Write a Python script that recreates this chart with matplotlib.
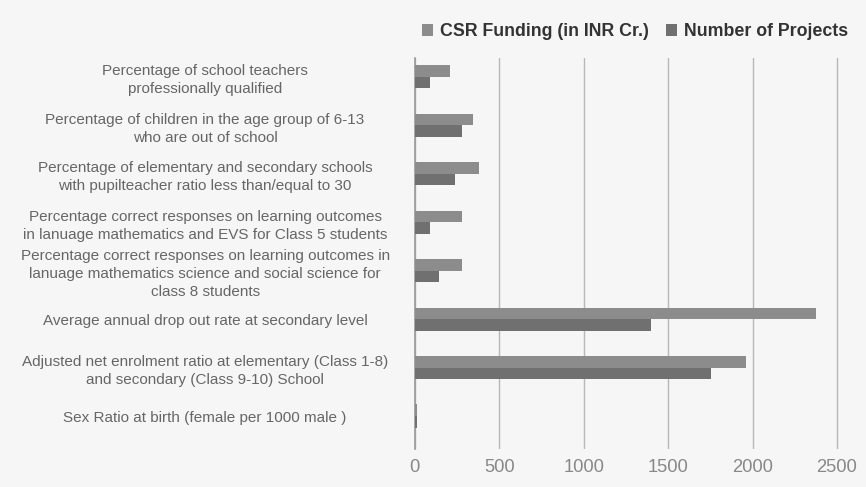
import matplotlib
matplotlib.use("Agg")
import matplotlib.pyplot as plt
import numpy as np

categories = [
    "Percentage of school teachers\nprofessionally qualified",
    "Percentage of children in the age group of 6-13\nwho are out of school",
    "Percentage of elementary and secondary schools\nwith pupilteacher ratio less than/equal to 30",
    "Percentage correct responses on learning outcomes\nin lanuage mathematics and EVS for Class 5 students",
    "Percentage correct responses on learning outcomes in\nlanuage mathematics science and social science for\nclass 8 students",
    "Average annual drop out rate at secondary level",
    "Adjusted net enrolment ratio at elementary (Class 1-8)\nand secondary (Class 9-10) School",
    "Sex Ratio at birth (female per 1000 male )",
]
csr_funding = [209, 342, 378, 282, 282, 2376, 1964, 15]
num_projects = [92, 282, 237, 92, 141, 1396, 1752, 15]
xticks = [0, 500, 1000, 1500, 2000, 2500]

bg = "#f6f6f6"
plt.rcParams['font.family'] = ['Liberation Sans', 'DejaVu Sans']

fig = plt.figure(figsize=(8.66, 4.87), dpi=100, facecolor=bg)
ax = fig.add_axes([0.479, 0.078, 0.507, 0.803], facecolor=bg)

y = np.arange(len(categories))
h = 0.24
ax.barh(y - h / 2, csr_funding, height=h, color="#8c8c8c", label="CSR Funding (in INR Cr.)", zorder=3)
ax.barh(y + h / 2, num_projects, height=h, color="#707070", label="Number of Projects", zorder=3)

ax.set_xlim(0, 2600)
ax.set_ylim(7.68, -0.39)
ax.set_xticks(xticks)
ax.set_xticklabels([str(t) for t in xticks], fontsize=13.2, color="#888888")
ax.set_yticks(y)
ax.set_yticklabels(categories, fontsize=11, color="#666666", ha="center", multialignment="center", linespacing=1.35)
ax.tick_params(axis="y", length=0, pad=151)
ax.tick_params(axis="x", length=0, pad=7)
ax.grid(axis="x", color="#b8b8b8", linewidth=1, zorder=0)
for s in ["top", "right", "bottom"]:
    ax.spines[s].set_visible(False)
ax.spines["left"].set_color("#999999")
ax.spines["left"].set_linewidth(1.2)

fig.legend(loc="upper right", bbox_to_anchor=(0.998, 0.985), ncol=2, frameon=False,
           prop={"weight": "bold", "size": 12.8}, labelcolor="#333333",
           handlelength=0.6, handleheight=0.6, handletextpad=0.4, columnspacing=1.0)

fig.savefig("out.png", dpi=100, facecolor=bg)
